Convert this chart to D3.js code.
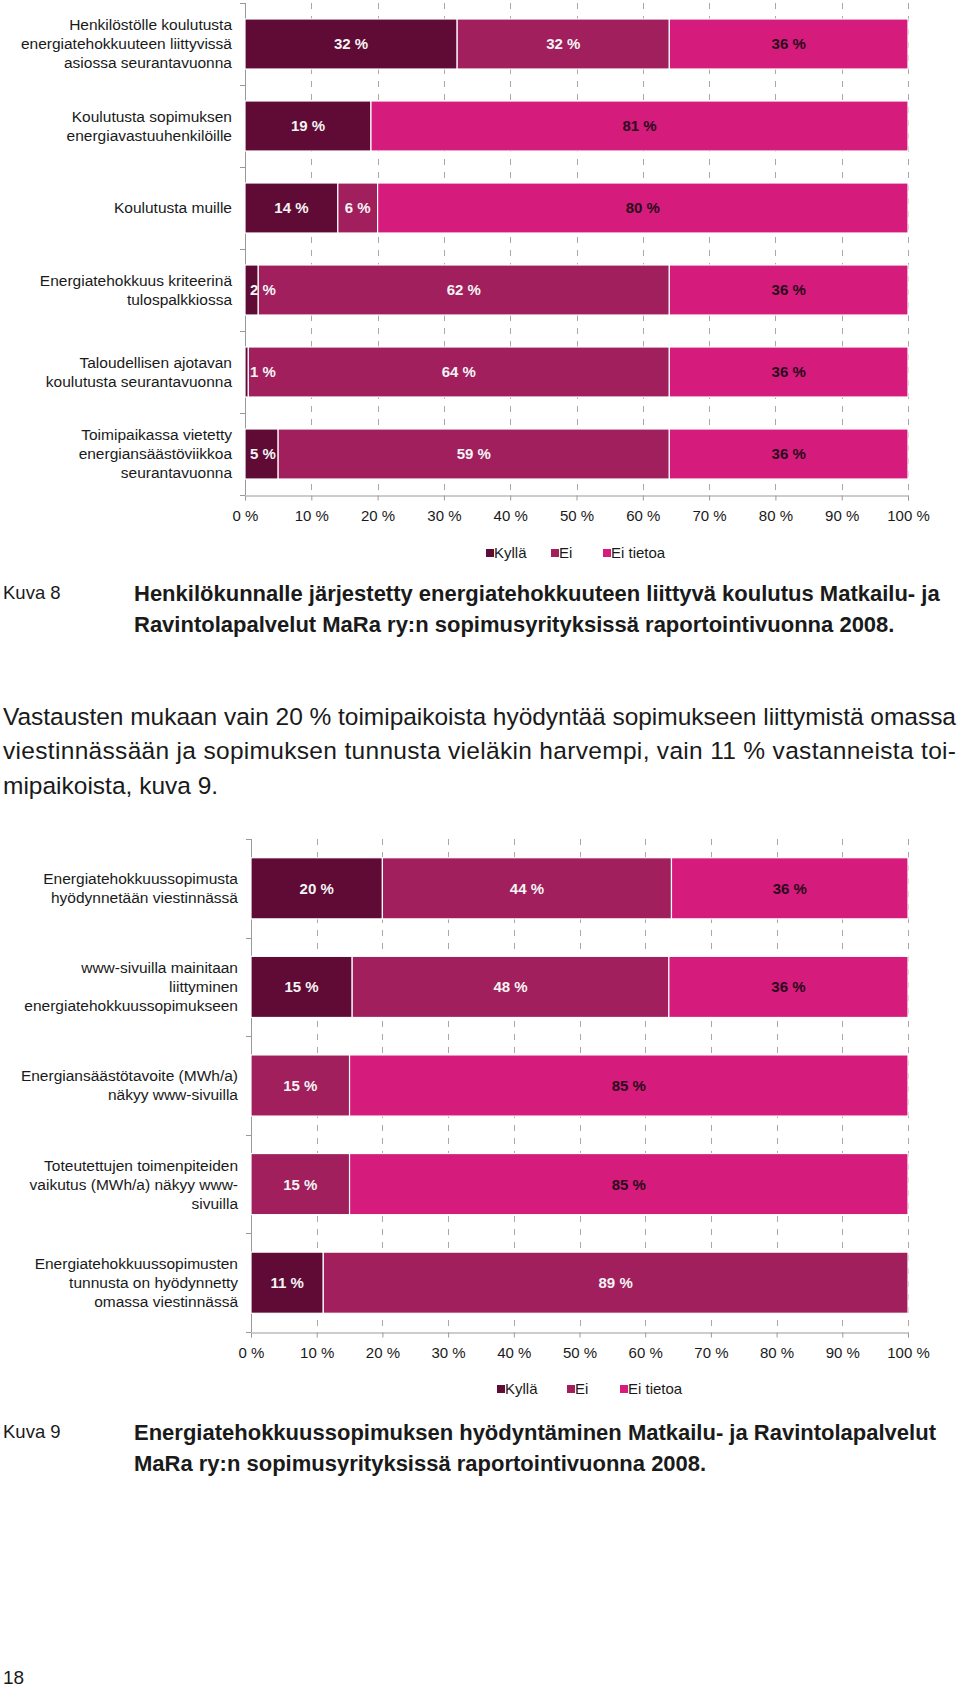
<!DOCTYPE html>
<html><head><meta charset="utf-8">
<script src="https://cdn.jsdelivr.net/npm/d3@7"></script>
<style>body{margin:0;background:#fff} svg{display:block;font-family:"Liberation Sans",Arial,sans-serif}</style>
</head><body>
<svg id="page" width="960" height="1688"></svg>
<script>
// ---------- data ----------
const seriesNames = ["Kyllä", "Ei", "Ei tietoa"];
const seriesColors = ["#5f0b36", "#a01f5c", "#d51b7b"];
const labelColors = ["#f4f4f4", "#f4f4f4", "#2a0a1c"];
const tickValues = [0, 10, 20, 30, 40, 50, 60, 70, 80, 90, 100];
const tickLabels = ["0 %", "10 %", "20 %", "30 %", "40 %", "50 %", "60 %", "70 %", "80 %", "90 %", "100 %"];

const chart1Categories = [
  ["Henkilöstölle koulutusta", "energiatehokkuuteen liittyvissä", "asiossa seurantavuonna"],
  ["Koulutusta sopimuksen", "energiavastuuhenkilöille"],
  ["Koulutusta muille"],
  ["Energiatehokkuus kriteerinä", "tulospalkkiossa"],
  ["Taloudellisen ajotavan", "koulutusta seurantavuonna"],
  ["Toimipaikassa vietetty", "energiansäästöviikkoa", "seurantavuonna"]
];
const chart1Kylla    = [32, 19, 14, 2, 0.5, 5];
const chart1Ei       = [32, 0, 6, 62, 63.5, 59];
const chart1EiTietoa = [36, 81, 80, 36, 36, 36];

const chart2Categories = [
  ["Energiatehokkuussopimusta", "hyödynnetään viestinnässä"],
  ["www-sivuilla mainitaan", "liittyminen", "energiatehokkuussopimukseen"],
  ["Energiansäästötavoite (MWh/a)", "näkyy www-sivuilla"],
  ["Toteutettujen toimenpiteiden", "vaikutus (MWh/a) näkyy www-", "sivuilla"],
  ["Energiatehokkuussopimusten", "tunnusta on hyödynnetty", "omassa viestinnässä"]
];
const chart2Kylla    = [20, 15.4, 0, 0, 11];
const chart2Ei       = [44, 48.2, 15, 15, 89];
const chart2EiTietoa = [36, 36.4, 85, 85, 0];

const caption8Label = "Kuva 8";
const caption8Lines = ["Henkilökunnalle järjestetty energiatehokkuuteen liittyvä koulutus Matkailu- ja",
                       "Ravintolapalvelut MaRa ry:n sopimusyrityksissä raportointivuonna 2008."];
const bodyLines = ["Vastausten mukaan vain 20 % toimipaikoista hyödyntää sopimukseen liittymistä omassa",
                   "viestinnässään ja sopimuksen tunnusta vieläkin harvempi, vain 11 % vastanneista toi-",
                   "mipaikoista, kuva 9."];
const caption9Label = "Kuva 9";
const caption9Lines = ["Energiatehokkuussopimuksen hyödyntäminen Matkailu- ja Ravintolapalvelut",
                       "MaRa ry:n sopimusyrityksissä raportointivuonna 2008."];
const pageNumber = "18";

// ---------- drawing ----------
const svg = d3.select("#page");
const TEXT = "#1a1a1a";

function drawChart(cfg) {
  const g = svg.append("g");
  const rows = cfg.categories.map((c, i) => ({
    key: i, lines: c, "Kyllä": cfg.kylla[i], "Ei": cfg.ei[i], "Ei tietoa": cfg.eiTietoa[i]
  }));
  const x = d3.scaleLinear().domain([0, 100]).range([cfg.x0, cfg.x1]);
  const y = d3.scaleBand().domain(rows.map(r => r.key)).range([cfg.y0, cfg.y1])
    .paddingInner(cfg.pad).paddingOuter(cfg.pad / 2);

  // dashed gridlines
  g.append("g").selectAll("line").data(tickValues.filter(t => t > 0)).join("line")
    .attr("x1", d => Math.round(x(d)) + 0.5).attr("x2", d => Math.round(x(d)) + 0.5)
    .attr("y1", cfg.y0).attr("y2", cfg.y1)
    .attr("stroke", "#a8a8a8").attr("stroke-width", 1).attr("stroke-dasharray", "6,7");

  // left axis with ticks at band boundaries
  const bounds = rows.map(r => y(r.key) - y.step() * y.paddingInner() / 2).concat([cfg.y1]);
  g.append("line").attr("x1", cfg.x0 + 0.5).attr("x2", cfg.x0 + 0.5).attr("y1", cfg.y0).attr("y2", cfg.y1)
    .attr("stroke", "#9a9a9a");
  g.append("g").selectAll("line").data(bounds).join("line")
    .attr("x1", cfg.x0 - 5).attr("x2", cfg.x0).attr("y1", d => Math.round(d) + 0.5).attr("y2", d => Math.round(d) + 0.5)
    .attr("stroke", "#9a9a9a");

  // bottom axis
  const xAxis = d3.axisBottom(x).tickValues(tickValues).tickFormat((d, i) => tickLabels[i])
    .tickSize(5).tickPadding(10);
  const ax = g.append("g").attr("transform", `translate(0,${cfg.y1 + 0.5})`).call(xAxis);
  ax.select(".domain").attr("stroke", "#9a9a9a");
  ax.selectAll(".tick line").attr("stroke", "#9a9a9a");
  ax.selectAll(".tick text").attr("fill", TEXT).attr("font-size", 15)
    .attr("font-family", "'Liberation Sans', Arial, sans-serif");

  // stacked bars
  const stack = d3.stack().keys(seriesNames)(rows);
  const layers = g.append("g").selectAll("g").data(stack).join("g")
    .attr("fill", (d, i) => seriesColors[i]);
  layers.selectAll("rect").data(d => d).join("rect")
    .attr("x", d => x(d[0])).attr("width", d => Math.max(0, x(d[1]) - x(d[0])))
    .attr("y", d => y(d.data.key)).attr("height", y.bandwidth())
    .attr("stroke", "#fff").attr("stroke-width", 1.2);

  // value labels
  stack.forEach((layer, si) => {
    layer.forEach(d => {
      const v = d[1] - d[0];
      if (v <= 0) return;
      const t = g.append("text").text(Math.round(v) + " %")
        .attr("font-size", 15).attr("font-weight", "bold").attr("fill", labelColors[si])
        .attr("text-anchor", "middle").attr("dy", "0.36em")
        .attr("y", y(d.data.key) + y.bandwidth() / 2);
      const w = t.node().getComputedTextLength();
      const cx = Math.max((x(d[0]) + x(d[1])) / 2, cfg.x0 + w / 2 + 5);
      t.attr("x", cx);
    });
  });

  // category labels
  rows.forEach(r => {
    const cy = y(r.key) + y.bandwidth() / 2;
    const n = r.lines.length;
    const t = g.append("text").attr("text-anchor", "end").attr("font-size", 15.5).attr("fill", TEXT);
    r.lines.forEach((ln, i) => {
      t.append("tspan").attr("x", cfg.labelX).attr("y", cy + (i - (n - 1) / 2) * 19).attr("dy", "0.35em").text(ln);
    });
  });

  // legend
  seriesNames.forEach((s, i) => {
    const lx = cfg.legendX[i];
    g.append("rect").attr("x", lx).attr("y", cfg.legendY - 4).attr("width", 8).attr("height", 8).attr("fill", seriesColors[i]);
    g.append("text").attr("x", lx + 8).attr("y", cfg.legendY).attr("dy", "0.35em")
      .attr("font-size", 15).attr("fill", TEXT).text(s);
  });
}

drawChart({ categories: chart1Categories, kylla: chart1Kylla, ei: chart1Ei, eiTietoa: chart1EiTietoa,
  x0: 245, x1: 908, y0: 3, y1: 495, pad: 0.39, labelX: 232, legendX: [486, 551, 603], legendY: 553 });
drawChart({ categories: chart2Categories, kylla: chart2Kylla, ei: chart2Ei, eiTietoa: chart2EiTietoa,
  x0: 251, x1: 908, y0: 839, y1: 1332, pad: 0.38, labelX: 238, legendX: [497, 567, 620], legendY: 1389 });

// captions
function caption(label, lines, y0) {
  svg.append("text").attr("x", 3).attr("y", y0).attr("dy", "0.35em").attr("font-size", 18.5).attr("fill", TEXT).text(label);
  lines.forEach((ln, i) => {
    svg.append("text").attr("x", 134).attr("y", y0 + i * 31.5).attr("dy", "0.35em")
      .attr("font-size", 22).attr("font-weight", "bold").attr("fill", TEXT).text(ln);
  });
}
caption(caption8Label, caption8Lines, 593);
caption(caption9Label, caption9Lines, 1432);

// body paragraph (justified)
bodyLines.forEach((ln, i) => {
  const t = svg.append("text").attr("x", 3).attr("y", 716 + i * 34.5).attr("dy", "0.35em")
    .attr("font-size", 24.5).attr("fill", TEXT).text(ln);
  if (i < bodyLines.length - 1) t.attr("textLength", 953).attr("lengthAdjust", "spacing");
});

svg.append("text").attr("x", 3).attr("y", 1677).attr("dy", "0.35em").attr("font-size", 19).attr("fill", TEXT).text(pageNumber);
</script>
</body></html>
